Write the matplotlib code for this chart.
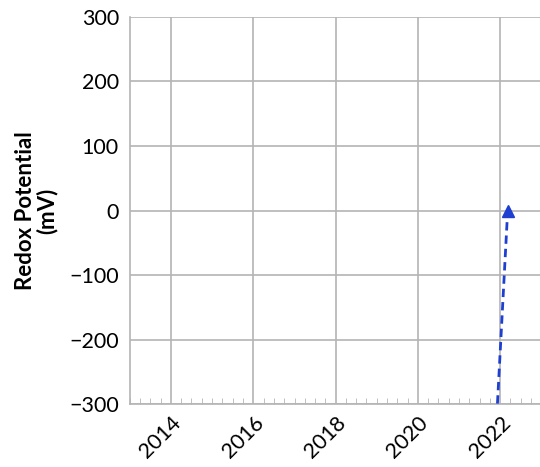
import matplotlib
matplotlib.use("Agg")
import matplotlib.pyplot as plt
import matplotlib.dates as mdates
import numpy as np
from datetime import datetime

dates = [datetime(2021, 12, 1), datetime(2022, 3, 8)]
redox = [-320, 0]

plt.rcParams['font.family'] = ['Lato', 'DejaVu Sans']

fig = plt.figure(figsize=(5.4, 4.67), dpi=100)
ax = fig.add_axes([0.2407, 0.1349, 0.7593, 0.8287])

ax.plot(dates, redox, color='#1f3fd0', linestyle=(0, (3, 1.8)), linewidth=2, zorder=3)
ax.plot(dates[-1:], redox[-1:], marker='^', color='#1f3fd0', markersize=9, linestyle='none', zorder=4)

ax.set_ylim(-300, 300)
ax.set_yticks(np.arange(-300, 301, 100))
ax.set_yticklabels([str(v).replace('-', '\u2212') for v in range(-300, 301, 100)])
ax.set_xlim(datetime(2013, 1, 1), datetime(2022, 12, 20))
ax.xaxis.set_major_locator(mdates.YearLocator(2))
ax.xaxis.set_major_formatter(mdates.DateFormatter('%Y'))
ax.xaxis.set_minor_locator(mdates.MonthLocator(bymonth=[1, 4, 7, 10]))

ax.grid(True, which='major', color='#b4b4b4', linewidth=1.2)
for s in ['top', 'right']:
    ax.spines[s].set_visible(False)
for s in ['left', 'bottom']:
    ax.spines[s].set_color('#b4b4b4')
    ax.spines[s].set_linewidth(1.2)

ax.tick_params(axis='x', which='major', length=0, labelsize=15.5, pad=6)
ax.tick_params(axis='x', which='minor', direction='in', length=4, color='#b4b4b4')
ax.tick_params(axis='y', which='major', length=0, labelsize=15.5, pad=8)
for lbl in ax.get_xticklabels():
    lbl.set_rotation(45)
    lbl.set_ha('right')
    lbl.set_rotation_mode('anchor')

ax.set_ylabel('Redox Potential\n(mV)', fontsize=16, fontweight='bold', labelpad=8, linespacing=1.0)

fig.savefig('out.png', dpi=100)
